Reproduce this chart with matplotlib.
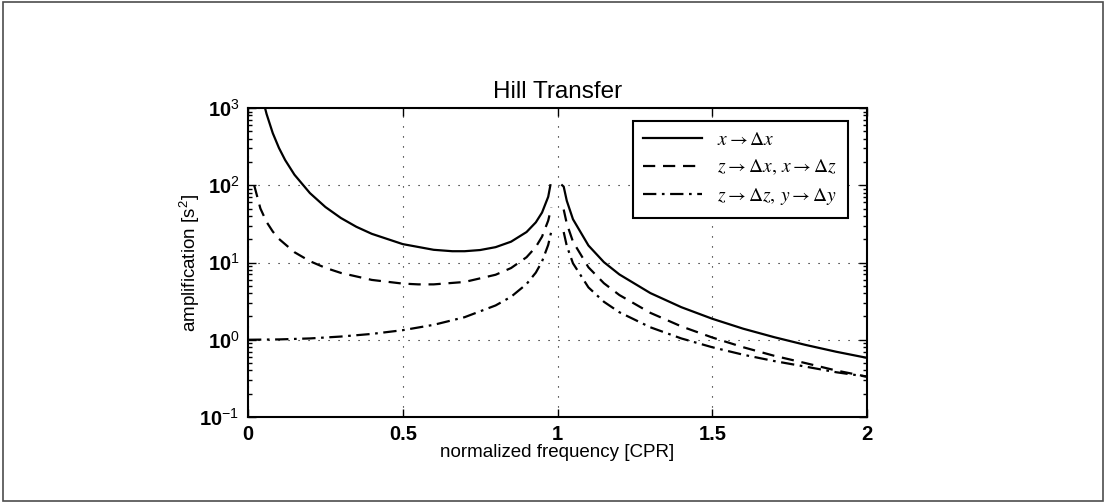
import numpy as np
import matplotlib
matplotlib.use("Agg")
import matplotlib.pyplot as plt
from matplotlib.ticker import FixedLocator, FixedFormatter, LogLocator, NullFormatter

plt.rcParams['font.family'] = ['Liberation Sans', 'DejaVu Sans']
plt.rcParams['mathtext.fontset'] = 'custom'
plt.rcParams['mathtext.rm'] = 'STIXGeneral'
plt.rcParams['mathtext.it'] = 'STIXGeneral:italic'
plt.rcParams['mathtext.bf'] = 'Liberation Sans:bold'
plt.rcParams['mathtext.sf'] = 'Liberation Sans'

# values
# left branch (below resonance)
f_lo_x = [0.055, 0.06, 0.08, 0.10, 0.12, 0.15, 0.20, 0.25, 0.30, 0.35, 0.40, 0.50,
          0.60, 0.66, 0.70, 0.75, 0.80, 0.85, 0.90, 0.93, 0.95, 0.97, 0.977]
amp_xx_lo = [1000, 837, 473, 304, 212, 137, 79.2, 52.3, 37.7, 29.0, 23.5, 17.3,
             14.6, 14.0, 14.0, 14.5, 15.8, 18.6, 24.8, 33.1, 44.3, 70.9, 100]

f_lo = [0.02, 0.04, 0.06, 0.08, 0.10, 0.15, 0.20, 0.25, 0.30, 0.40, 0.50, 0.55,
        0.60, 0.70, 0.80, 0.85, 0.90, 0.93, 0.95, 0.97, 0.98]
amp_zx_lo = [100, 50.1, 33.5, 25.2, 20.2, 13.6, 10.4, 8.53, 7.33, 5.95, 5.33, 5.21,
             5.21, 5.60, 6.94, 8.48, 11.7, 15.9, 21.6, 34.9, 51.5]

f_zz_lo = [0.0, 0.10, 0.20, 0.30, 0.40, 0.50, 0.60, 0.70, 0.80, 0.85, 0.90, 0.93,
           0.95, 0.97, 0.98]
amp_zz_lo = [1.0, 1.01, 1.04, 1.10, 1.19, 1.33, 1.56, 1.96, 2.78, 3.60, 5.26, 7.40,
             10.3, 16.9, 25.3]

# right branch (above resonance)
f_hi_x = [1.015, 1.02, 1.03, 1.05, 1.10, 1.15, 1.20, 1.30, 1.40, 1.50, 1.60, 1.70,
          1.80, 1.90, 2.00]
amp_xx_hi = [100, 96, 62.9, 36.3, 16.6, 10.1, 7.0, 4.02, 2.64, 1.87, 1.39, 1.08,
             0.86, 0.70, 0.583]

f_hi = [1.02, 1.03, 1.05, 1.10, 1.15, 1.20, 1.30, 1.40, 1.50, 1.60, 1.70, 1.80,
        1.90, 2.00]
amp_zx_hi = [48.5, 31.9, 18.6, 8.66, 5.39, 3.79, 2.23, 1.49, 1.07, 0.80, 0.62, 0.50,
             0.40, 0.333]
amp_zz_hi = [24.8, 16.4, 9.76, 4.76, 3.10, 2.27, 1.45, 1.04, 0.80, 0.64, 0.53, 0.45,
             0.38, 0.333]

labels = [r'$x \rightarrow \Delta x$',
          r'$z \rightarrow \Delta x,\, x \rightarrow \Delta z$',
          r'$z \rightarrow \Delta z,\, y \rightarrow \Delta y$']

x_ticks = [0, 0.5, 1, 1.5, 2]
x_ticklabels = ['0', '0.5', '1', '1.5', '2']
y_ticks = [0.1, 1, 10, 100, 1000]
y_ticklabels = [r'$\mathbf{10}^{\mathsf{-1}}$', r'$\mathbf{10}^{\mathsf{0}}$',
                r'$\mathbf{10}^{\mathsf{1}}$', r'$\mathbf{10}^{\mathsf{2}}$',
                r'$\mathbf{10}^{\mathsf{3}}$']

fig = plt.figure(figsize=(11.06, 5.03), dpi=100)
ax = fig.add_axes([248/1106, 1-417/503, 619/1106, 309/503])

lw = 1.6
dash = (0, (5.5, 3.5))
dashdot = (0, (6, 2.5, 1.2, 2.5))
l1, = ax.plot(f_lo_x, amp_xx_lo, color='k', lw=lw, ls='-', label=labels[0])
ax.plot(f_hi_x, amp_xx_hi, color='k', lw=lw, ls='-')
l2, = ax.plot(f_lo, amp_zx_lo, color='k', lw=lw, ls=dash, label=labels[1])
ax.plot(f_hi, amp_zx_hi, color='k', lw=lw, ls=dash)
l3, = ax.plot(f_zz_lo, amp_zz_lo, color='k', lw=lw, ls=dashdot, label=labels[2])
ax.plot(f_hi, amp_zz_hi, color='k', lw=lw, ls=dashdot)

ax.set_yscale('log')
ax.set_xlim(0, 2)
ax.set_ylim(0.1, 1000)
ax.xaxis.set_major_locator(FixedLocator(x_ticks))
ax.xaxis.set_major_formatter(FixedFormatter(x_ticklabels))
ax.yaxis.set_major_locator(FixedLocator(y_ticks))
ax.yaxis.set_major_formatter(FixedFormatter(y_ticklabels))
ax.yaxis.set_minor_locator(LogLocator(base=10, subs=np.arange(2, 10)))
ax.yaxis.set_minor_formatter(NullFormatter())

ax.tick_params(which='both', direction='in', top=True, right=True, width=1.0)
ax.tick_params(which='major', length=6, labelsize=14.5, pad=6)
ax.tick_params(which='minor', length=3)
for t in ax.get_xticklabels():
    t.set_fontweight('bold')
for s in ax.spines.values():
    s.set_linewidth(1.5)

ax.grid(True, which='major', color='k', ls=(0, (1, 8)), lw=0.8)

ax.set_title('Hill Transfer', fontsize=17.5, pad=7)
ax.set_xlabel('normalized frequency [CPR]', fontsize=13.5, labelpad=0)
ax.set_ylabel(r'amplification [s$^{\mathsf{2}}$]', fontsize=13.5)
ax.yaxis.set_label_coords(-0.074, 0.5)

leg = ax.legend(handles=[l1, l2, l3], loc='upper right', bbox_to_anchor=(0.969, 0.958),
                borderaxespad=0, fontsize=14, fancybox=False, framealpha=1,
                edgecolor='k', handlelength=3.0, handletextpad=0.8, borderpad=0.55,
                labelspacing=0.45)
leg.get_frame().set_linewidth(1.5)

fig.patches.append(plt.Rectangle((0.003, 0.003), 0.994, 0.994, transform=fig.transFigure,
                                 fill=False, edgecolor='0.3', lw=1.2))

fig.savefig('out.png', dpi=100)
